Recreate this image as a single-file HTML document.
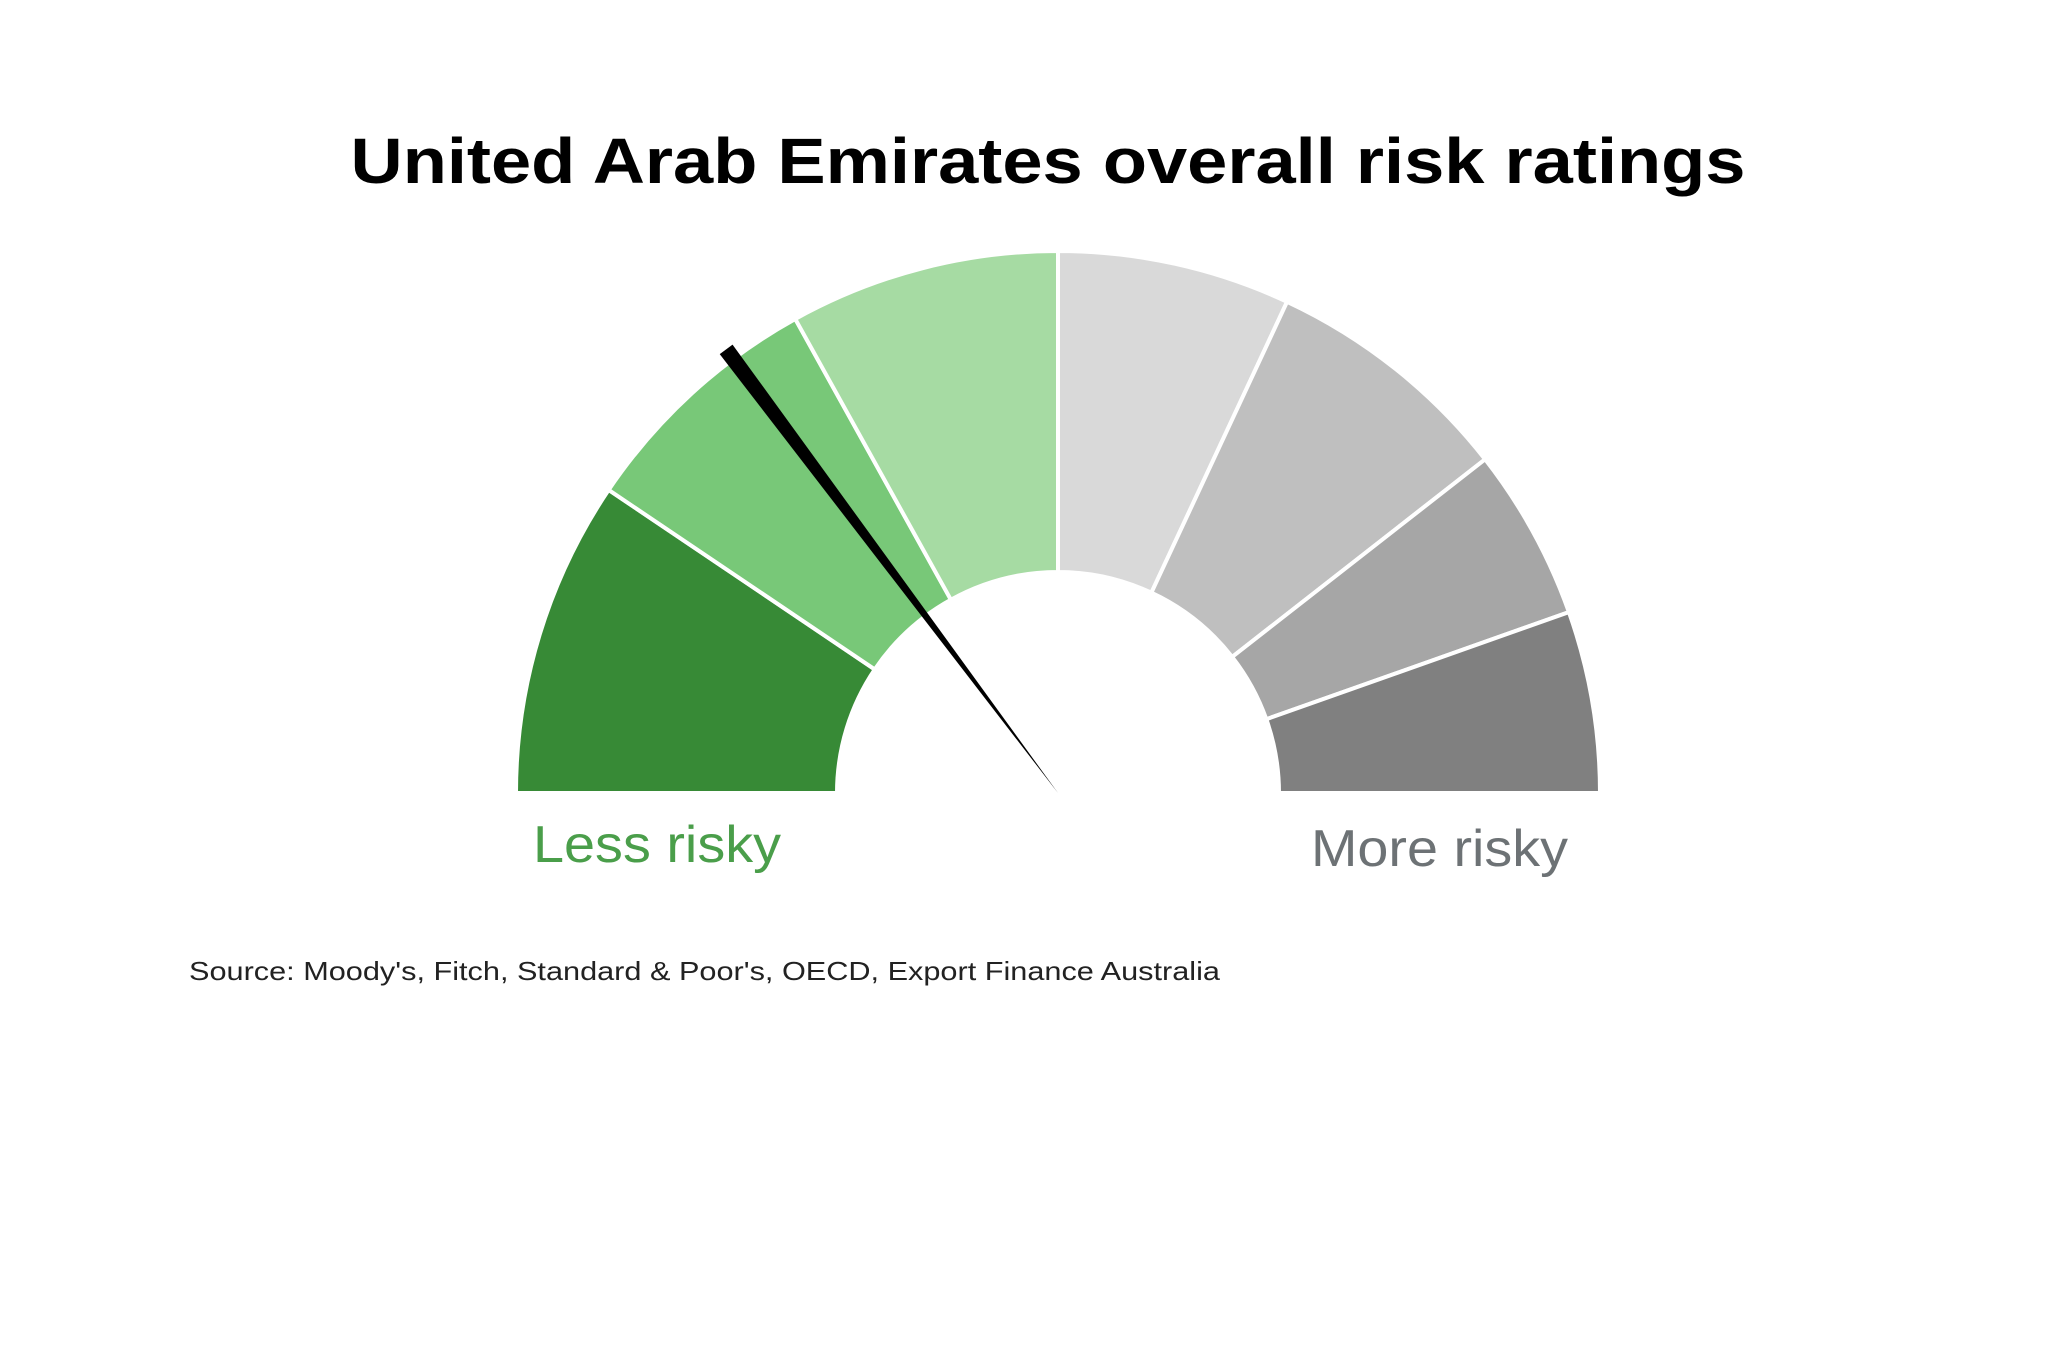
<!DOCTYPE html>
<html><head><meta charset="utf-8"><style>
html,body{margin:0;padding:0;background:#fff;}
svg{display:block;}
text{font-family:"Liberation Sans",Arial,sans-serif;}
</style></head><body>
<svg id="chart" width="2048" height="1352" viewBox="0 0 2048 1352" xmlns="http://www.w3.org/2000/svg">
<rect width="2048" height="1352" fill="#fff"/>
<text x="1048" y="183" text-anchor="middle" font-size="64" font-weight="bold" fill="#000" textLength="1395" lengthAdjust="spacingAndGlyphs">United Arab Emirates overall risk ratings</text>
<g id="segments"></g>
<g id="needle-g"></g>
<text x="533" y="862" font-size="52" fill="#4a9e4a" textLength="248" lengthAdjust="spacingAndGlyphs">Less risky</text>
<text x="1311" y="866" font-size="52" fill="#6d7275" textLength="257" lengthAdjust="spacingAndGlyphs">More risky</text>
<text x="189" y="980" font-size="26" fill="#222" textLength="1031" lengthAdjust="spacingAndGlyphs">Source: Moody's, Fitch, Standard &amp; Poor's, OECD, Export Finance Australia</text>
</svg>
<script>
// Segment sizes (degrees of the half-circle, from "less risky" to "more risky")
const segmentNames = ['band-1','band-2','band-3','band-4','band-5','band-6','band-7','band-8'];
const segmentSizes = [34, 27, 29, 25, 27, 18.5, 19.5];
const segmentColors = ['#378a36','#78c878','#a6dba3','#d9d9d9','#bfbfbf','#a6a6a6','#808080'];
const needleValue = 53.2; // degrees from the left end

const cx = 1058, cy = 793, R = 542, r = 221;
const NS = 'http://www.w3.org/2000/svg';
const total = segmentSizes.reduce((a,b)=>a+b,0);
function angleOf(v){ return Math.PI - (v/total)*Math.PI; }
function pt(rad, a){ return [cx + rad*Math.cos(a), cy - rad*Math.sin(a)]; }

const segG = document.getElementById('segments');
let acc = 0;
segmentSizes.forEach((s,i)=>{
  const a0 = angleOf(acc), a1 = angleOf(acc+s);
  acc += s;
  const p0 = pt(R,a0), p1 = pt(R,a1), q1 = pt(r,a1), q0 = pt(r,a0);
  const d = `M${p0[0]},${p0[1]} A${R},${R} 0 0 1 ${p1[0]},${p1[1]} L${q1[0]},${q1[1]} A${r},${r} 0 0 0 ${q0[0]},${q0[1]} Z`;
  const p = document.createElementNS(NS,'path');
  p.setAttribute('d', d);
  p.setAttribute('fill', segmentColors[i]);
  p.setAttribute('stroke', '#fff');
  p.setAttribute('stroke-width', '4');
  
  
  segG.appendChild(p);
});

const na = Math.PI - (needleValue/180)*Math.PI;
const tip = pt(R+12, na);
const perp = [Math.sin(na), Math.cos(na)];
const w = 8;
const needle = document.createElementNS(NS,'path');
needle.setAttribute('d', `M${cx},${cy} L${tip[0]+perp[0]*w},${tip[1]+perp[1]*w} L${tip[0]-perp[0]*w},${tip[1]-perp[1]*w} Z`);
needle.setAttribute('fill', '#000');


document.getElementById('needle-g').appendChild(needle);
</script>
</body></html>
